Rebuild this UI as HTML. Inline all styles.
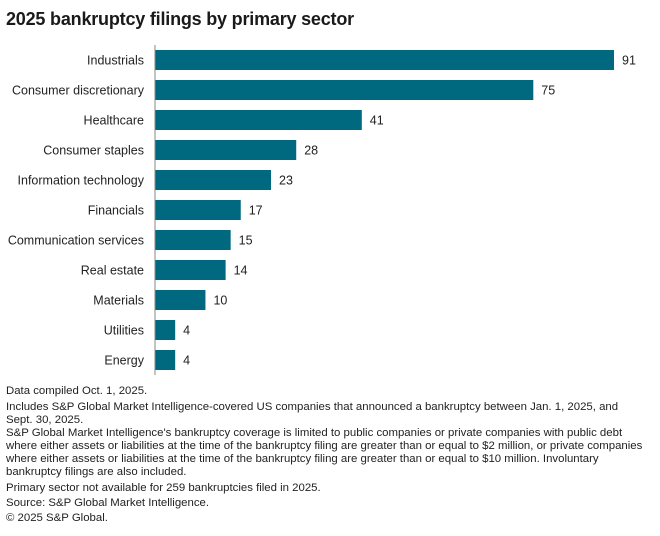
<!DOCTYPE html>
<html><head><meta charset="utf-8"><style>
body{margin:0;width:660px;height:536px;background:#fff;font-family:"Liberation Sans",sans-serif;color:#1a1a1a;position:relative;overflow:hidden}
#title{position:absolute;left:6px;top:9px;font-size:18px;font-weight:bold;letter-spacing:-0.2px}
.fn{position:absolute;left:6px;font-size:11.4px;line-height:13px;white-space:nowrap;color:#222}
</style></head><body>
<div id="title">2025 bankruptcy filings by primary sector</div>
<svg id="chart" width="660" height="380" style="position:absolute;left:0;top:0"></svg>
<div class="fn" style="top:385px">Data compiled Oct. 1, 2025.</div>
<div class="fn" style="top:401px">Includes S&amp;P Global Market Intelligence-covered US companies that announced a bankruptcy between Jan. 1, 2025, and<br>Sept. 30, 2025.</div>
<div class="fn" style="top:427px">S&amp;P Global Market Intelligence's bankruptcy coverage is limited to public companies or private companies with public debt<br>where either assets or liabilities at the time of the bankruptcy filing are greater than or equal to $2 million, or private companies<br>where either assets or liabilities at the time of the bankruptcy filing are greater than or equal to $10 million. Involuntary<br>bankruptcy filings are also included.</div>
<div class="fn" style="top:482px">Primary sector not available for 259 bankruptcies filed in 2025.</div>
<div class="fn" style="top:497px">Source: S&amp;P Global Market Intelligence.</div>
<div class="fn" style="top:512px">© 2025 S&amp;P Global.</div>
<script>
const categories=["Industrials","Consumer discretionary","Healthcare","Consumer staples","Information technology","Financials","Communication services","Real estate","Materials","Utilities","Energy"];
const values=[91,75,41,28,23,17,15,14,10,4,4];
const svg=document.getElementById('chart');
const NS='http://www.w3.org/2000/svg';
const x0=155,pxPer=(614-155)/91;
function xs(v){return x0+v*pxPer;}
function ys(i){return 50+i*30;}
categories.forEach((c,i)=>{
  const r=document.createElementNS(NS,'rect');
  r.setAttribute('x',x0);r.setAttribute('y',ys(i));
  r.setAttribute('width',xs(values[i])-x0);r.setAttribute('height',20);
  r.setAttribute('fill','#00697f');
  
  
  svg.appendChild(r);
  const t=document.createElementNS(NS,'text');
  t.setAttribute('x',144);t.setAttribute('y',ys(i)+14.5);
  t.setAttribute('text-anchor','end');t.setAttribute('font-size','12.5');t.setAttribute('fill','#222');
  t.textContent=c;
  
  
  svg.appendChild(t);
  const v=document.createElementNS(NS,'text');
  v.setAttribute('x',xs(values[i])+8);v.setAttribute('y',ys(i)+14.5);
  v.setAttribute('font-size','12.5');v.setAttribute('fill','#222');
  v.textContent=values[i];
  
  
  svg.appendChild(v);
});
const ax=document.createElementNS(NS,'line');
ax.setAttribute('x1',x0);ax.setAttribute('x2',x0);ax.setAttribute('y1',45);ax.setAttribute('y2',375);
ax.setAttribute('stroke','#888');ax.setAttribute('stroke-width','1');


svg.appendChild(ax);
</script>
</body></html>
